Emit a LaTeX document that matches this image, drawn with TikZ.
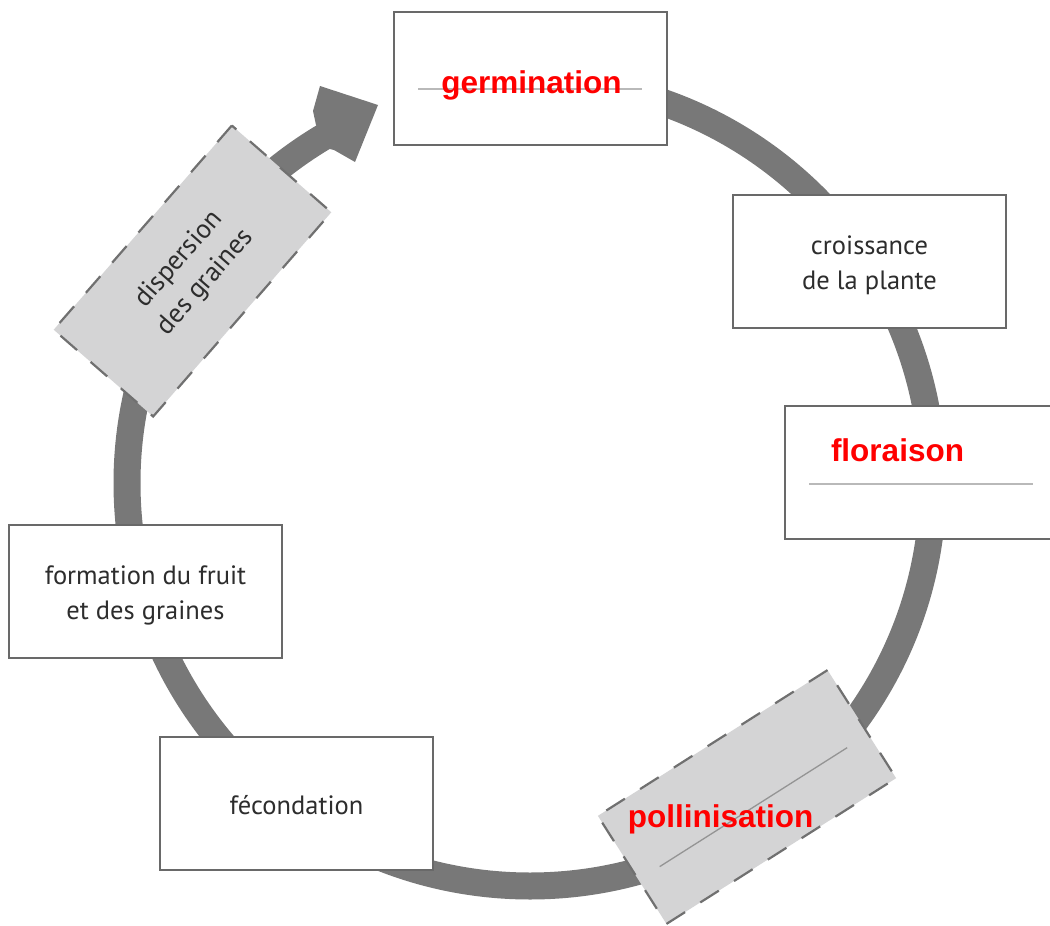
\documentclass[tikz,border=0pt]{standalone}
\usepackage{fontspec}
\newfontfamily\stagefont{PT Sans}
\newfontfamily\answerfont{Liberation Sans}
\definecolor{ringgray}{RGB}{120,120,120}
\definecolor{boxedge}{RGB}{105,105,105}
\definecolor{dashedge}{RGB}{112,112,112}
\definecolor{boxgray}{RGB}{212,212,213}
\definecolor{stagetext}{RGB}{45,45,45}
\definecolor{lightline}{RGB}{185,185,185}
\definecolor{answerred}{RGB}{255,0,0}
\begin{document}
\begin{tikzpicture}[x=1pt,y=-1pt,
  stagebox/.style={draw=boxedge, line width=2pt, fill=white,
    minimum width=273pt, minimum height=133pt, inner sep=0pt},
  stagelabel/.style={align=center, text=stagetext, inner sep=0pt,
    font=\stagefont\fontsize{26.5}{35}\selectfont},
  dashbox/.style={draw=dashedge, line width=2.2pt,
    dash pattern=on 22pt off 18pt, fill=boxgray, inner sep=0pt,
    align=center, text=stagetext,
    font=\stagefont\fontsize{27}{35}\selectfont},
  answer/.style={text=answerred, anchor=base, inner sep=0pt,
    font=\answerfont\bfseries\fontsize{31.5}{36}\selectfont},
  guideline/.style={draw=lightline, line width=2.5pt},
  thinguide/.style={draw=lightline!80!black, line width=1.3pt}
]
\clip (0,0) rectangle (1050,926);
\coordinate (c) at (530,483);
% ring
\draw[ringgray, line width=27pt] (c) ++(-90:403)
  arc[start angle=-90, end angle=239.6, radius=403];
% arrow head
\fill[ringgray] (316,125) -- (313,111) -- (320,86) -- (378,105)
  -- (355,162) -- (334,150) -- (330,149) -- cycle;

% dispersion box
\node[dashbox, minimum width=271pt, minimum height=132pt, rotate=48.9]
  (dispersion) at (192.5,271) {dispersion\\des graines};

% pollinisation box
\node[dashbox, minimum width=272pt, minimum height=128pt, rotate=32.4]
  (pollbox) at (747,797) {};
\begin{scope}[shift={(747,797)}, rotate=32.4]
  \draw[thinguide] (-111,12) -- (111,12);
\end{scope}
\node[answer] (pollinisation) at (720.5,827) {pollinisation};

% white boxes
\node[stagebox] (germbox) at (530.5,78) {};
\draw[guideline] (418,89) -- (642,89);
\node[answer] (germination) at (531.5,93) {germination};

\node[stagebox] (croissbox) at (869.5,261.5) {};
\node[stagelabel] (croissance) at ([yshift=-4pt]croissbox.center) {croissance\\de la plante};

\node[stagebox] (florbox) at (921.5,472.5) {};
\draw[guideline] (809,484) -- (1033,484);
\node[answer] (floraison) at (897.5,461) {floraison};

\node[stagebox] (formbox) at (145.5,591) {};
\node[stagelabel] (formation) at ([yshift=-4pt]formbox.center) {formation du fruit\\et des graines};

\node[stagebox] (fecbox) at (296.5,803.5) {};
\node[stagelabel] (fecondation) at ([yshift=-2pt]fecbox.center) {fécondation};
\end{tikzpicture}
\end{document}
